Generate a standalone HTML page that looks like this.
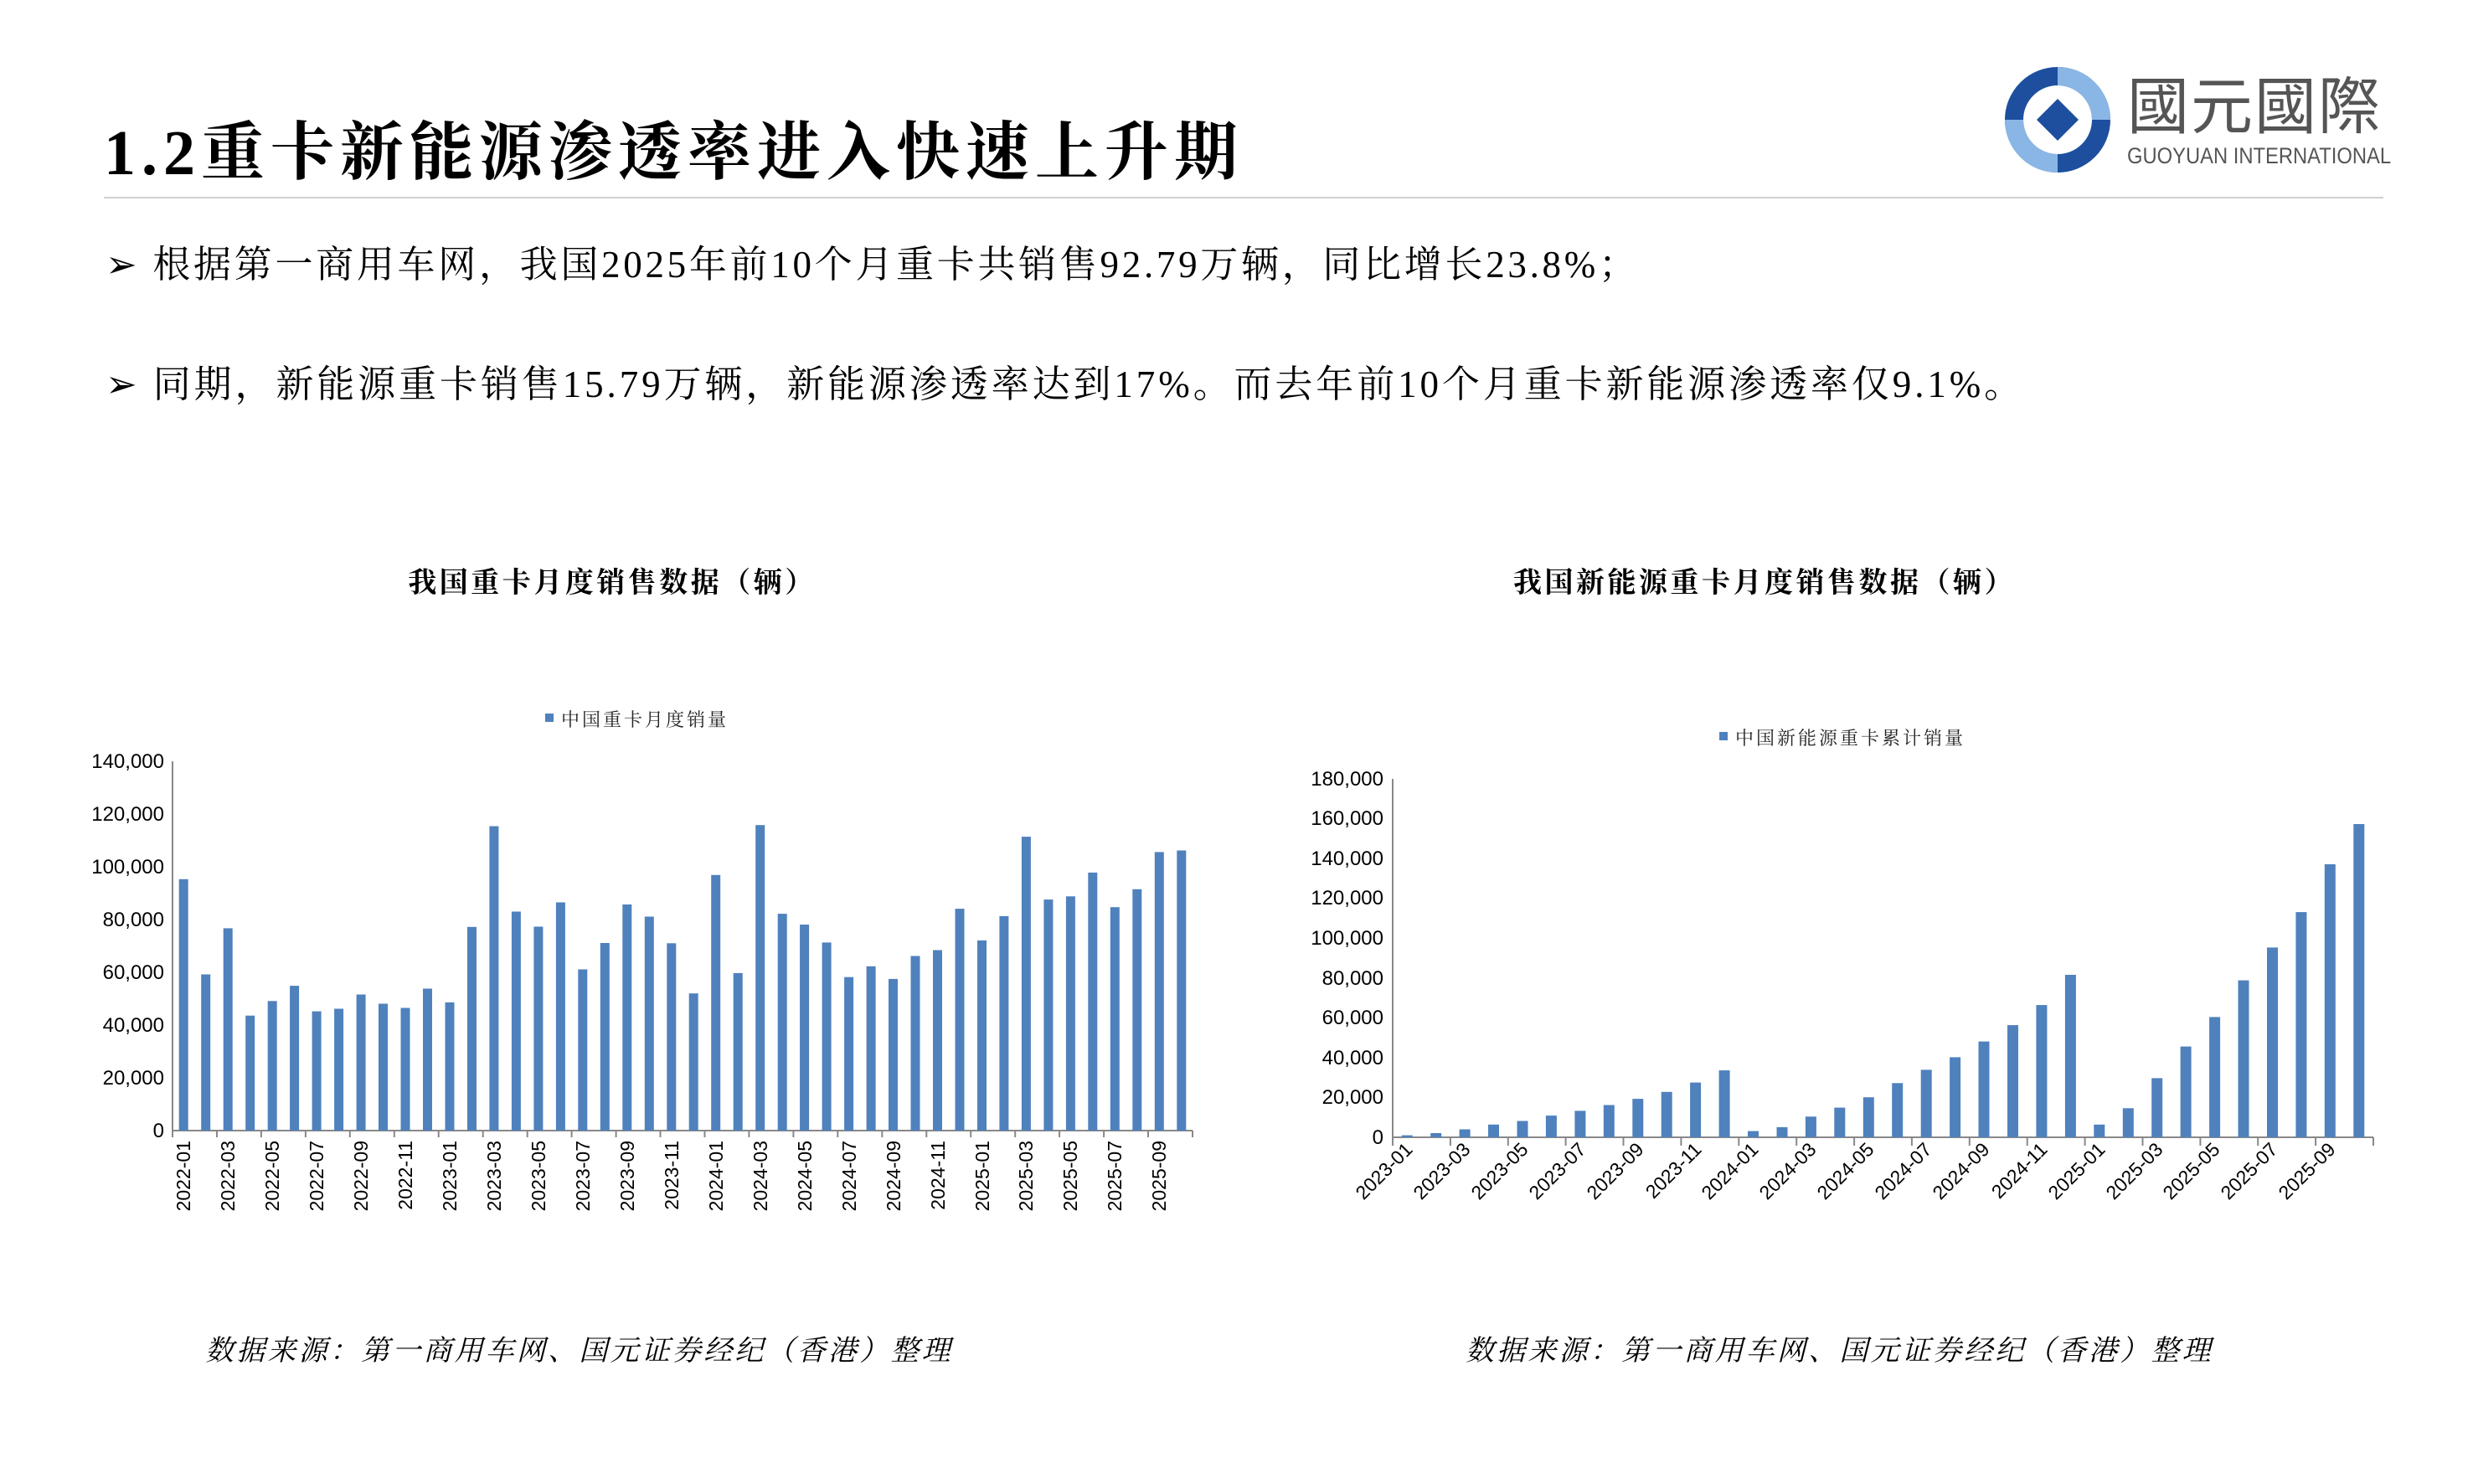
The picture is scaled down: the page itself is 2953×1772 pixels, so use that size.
<!DOCTYPE html>
<html><head><meta charset="utf-8"><style>
html,body{margin:0;padding:0;background:#fff;}
body{width:2953px;height:1772px;position:relative;overflow:hidden;font-family:"Liberation Serif","Noto Serif CJK SC",serif;}
.t{position:absolute;white-space:nowrap;color:#000;}
</style></head><body>
<div class="t" style="left:124px;top:138px;font-size:76px;font-weight:bold;line-height:90px;letter-spacing:7px;">1.2重卡新能源渗透率进入快速上升期</div>
<div style="position:absolute;left:124px;top:235px;width:2722px;height:2px;background:#d0d0d0;"></div>
<div class="t" style="left:126px;top:288px;font-size:45px;line-height:56px;letter-spacing:3.7px;">➢&nbsp;根据第一商用车网，我国2025年前10个月重卡共销售92.79万辆，同比增长23.8%；</div>
<div class="t" style="left:126px;top:431px;font-size:45px;line-height:56px;letter-spacing:3.9px;">➢&nbsp;同期，新能源重卡销售15.79万辆，新能源渗透率达到17%。而去年前10个月重卡新能源渗透率仅9.1%。</div>

<svg style="position:absolute;left:2392px;top:78px" width="130" height="130" viewBox="0 0 130 130">
<circle cx="65" cy="65" r="52" fill="none" stroke="#1d4f9e" stroke-width="22"/>
<path d="M65 13 A52 52 0 0 1 117 65" fill="none" stroke="#8ab6e6" stroke-width="22"/>
<path d="M65 117 A52 52 0 0 1 13 65" fill="none" stroke="#8ab6e6" stroke-width="22"/>
<polygon points="65,40 90,65 65,90 40,65" fill="#1d4f9e"/>
</svg>
<div class="t" style="left:2540px;top:88px;font-size:74px;line-height:80px;color:#555;font-family:'Liberation Sans','Noto Sans CJK TC',sans-serif;letter-spacing:2px;">國元國際</div>
<div class="t" style="left:2540px;top:170px;font-size:27px;line-height:32px;color:#555;font-family:'Liberation Sans',sans-serif;transform:scaleX(0.88);transform-origin:0 0;">GUOYUAN INTERNATIONAL</div>

<div class="t" style="left:0;width:1462px;text-align:center;top:676px;font-size:34px;font-weight:bold;line-height:42px;letter-spacing:3.5px;">我国重卡月度销售数据（辆）</div>
<div class="t" style="left:1462px;width:1290px;text-align:center;top:676px;font-size:34px;font-weight:bold;line-height:42px;letter-spacing:3.5px;">我国新能源重卡月度销售数据（辆）</div>

<svg id="ch" style="position:absolute;left:0;top:0" width="2953" height="1772" font-family="Liberation Sans, sans-serif">
<g font-size="22" fill="#222" font-family="Liberation Serif, Noto Serif CJK SC, serif" letter-spacing="3">
<rect x="651" y="852" width="10" height="10" fill="#4f81bd"/><text x="670" y="867">中国重卡月度销量</text>
<rect x="2053" y="874" width="10" height="10" fill="#4f81bd"/><text x="2072" y="889">中国新能源重卡累计销量</text>
</g>
<g stroke="#888" stroke-width="2">
<line x1="206" y1="909" x2="206" y2="1350"/><line x1="206" y1="1350" x2="1424" y2="1350"/>
<line x1="1663" y1="930" x2="1663" y2="1358"/><line x1="1663" y1="1358" x2="2834" y2="1358"/>
</g>
<g font-size="24" fill="#000" text-anchor="end">
<text x="196" y="1358">0</text><text x="196" y="1295">20,000</text><text x="196" y="1232">40,000</text><text x="196" y="1169">60,000</text><text x="196" y="1106">80,000</text><text x="196" y="1043">100,000</text><text x="196" y="980">120,000</text><text x="196" y="917">140,000</text>
<text x="1652" y="1366">0</text><text x="1652" y="1318">20,000</text><text x="1652" y="1271">40,000</text><text x="1652" y="1223">60,000</text><text x="1652" y="1176">80,000</text><text x="1652" y="1128">100,000</text><text x="1652" y="1080">120,000</text><text x="1652" y="1033">140,000</text><text x="1652" y="985">160,000</text><text x="1652" y="938">180,000</text>
</g>
<g id="bars" fill="#4f81bd"></g>
<g font-size="23" fill="#000" text-anchor="end">
<text transform="translate(227,1362) rotate(-90)">2022-01</text>
<text transform="translate(280,1362) rotate(-90)">2022-03</text>
<text transform="translate(333,1362) rotate(-90)">2022-05</text>
<text transform="translate(386,1362) rotate(-90)">2022-07</text>
<text transform="translate(439,1362) rotate(-90)">2022-09</text>
<text transform="translate(492,1362) rotate(-90)">2022-11</text>
<text transform="translate(545,1362) rotate(-90)">2023-01</text>
<text transform="translate(598,1362) rotate(-90)">2023-03</text>
<text transform="translate(651,1362) rotate(-90)">2023-05</text>
<text transform="translate(704,1362) rotate(-90)">2023-07</text>
<text transform="translate(757,1362) rotate(-90)">2023-09</text>
<text transform="translate(810,1362) rotate(-90)">2023-11</text>
<text transform="translate(863,1362) rotate(-90)">2024-01</text>
<text transform="translate(916,1362) rotate(-90)">2024-03</text>
<text transform="translate(969,1362) rotate(-90)">2024-05</text>
<text transform="translate(1022,1362) rotate(-90)">2024-07</text>
<text transform="translate(1075,1362) rotate(-90)">2024-09</text>
<text transform="translate(1128,1362) rotate(-90)">2024-11</text>
<text transform="translate(1181,1362) rotate(-90)">2025-01</text>
<text transform="translate(1233,1362) rotate(-90)">2025-03</text>
<text transform="translate(1286,1362) rotate(-90)">2025-05</text>
<text transform="translate(1339,1362) rotate(-90)">2025-07</text>
<text transform="translate(1392,1362) rotate(-90)">2025-09</text>
</g>
<g font-size="23" fill="#000" text-anchor="end">
<text transform="translate(1688,1374) rotate(-45)">2023-01</text>
<text transform="translate(1757,1374) rotate(-45)">2023-03</text>
<text transform="translate(1826,1374) rotate(-45)">2023-05</text>
<text transform="translate(1895,1374) rotate(-45)">2023-07</text>
<text transform="translate(1964,1374) rotate(-45)">2023-09</text>
<text transform="translate(2033,1374) rotate(-45)">2023-11</text>
<text transform="translate(2101,1374) rotate(-45)">2024-01</text>
<text transform="translate(2170,1374) rotate(-45)">2024-03</text>
<text transform="translate(2239,1374) rotate(-45)">2024-05</text>
<text transform="translate(2308,1374) rotate(-45)">2024-07</text>
<text transform="translate(2377,1374) rotate(-45)">2024-09</text>
<text transform="translate(2446,1374) rotate(-45)">2024-11</text>
<text transform="translate(2515,1374) rotate(-45)">2025-01</text>
<text transform="translate(2584,1374) rotate(-45)">2025-03</text>
<text transform="translate(2652,1374) rotate(-45)">2025-05</text>
<text transform="translate(2721,1374) rotate(-45)">2025-07</text>
<text transform="translate(2790,1374) rotate(-45)">2025-09</text>
</g>
</svg>

<div class="t" style="left:245px;top:1592px;font-size:34px;font-style:italic;line-height:44px;letter-spacing:3.2px;">数据来源：第一商用车网、国元证券经纪（香港）整理</div>
<div class="t" style="left:1750px;top:1592px;font-size:34px;font-style:italic;line-height:44px;letter-spacing:3.2px;">数据来源：第一商用车网、国元证券经纪（香港）整理</div>

<script>
var L=[95.3,59.2,76.7,43.6,49.1,54.9,45.2,46.2,51.6,48.1,46.5,53.8,48.6,77.2,115.4,83.0,77.3,86.5,61.1,71.1,85.7,81.1,71.0,52.0,96.9,59.7,115.8,82.2,78.1,71.3,58.2,62.3,57.5,66.2,68.4,84.1,72.1,81.3,111.4,87.6,88.8,97.8,84.7,91.5,105.6,106.2];
var R=[1,2.1,4,6.4,8.2,10.9,13.3,16.2,19.3,22.8,27.5,33.6,3.1,5.1,10.4,14.9,20.1,27.2,33.9,40.2,48.1,56.3,66.4,81.6,6.4,14.6,29.7,45.6,60.4,78.8,95.3,113.1,137.1,157.3];
var g=document.getElementById('bars'),s='';
function add(x,y,w,h,f){s+='<rect x="'+x.toFixed(1)+'" y="'+y.toFixed(1)+'" width="'+w+'" height="'+h.toFixed(1)+'"'+(f?' fill="'+f+'"':'')+'/>';}
var w1=(1424-206)/46;
L.forEach(function(v,i){var h=v*441/140;var c=206+(i+0.5)*w1;add(c-5.5,1350-h,11,h);});
for(var i=0;i<=46;i+=2){add(206+i*w1-1,1350,2,8,'#888');}
var w2=(2834-1663)/34;
R.forEach(function(v,i){var h=v*428/180;var c=1663+(i+0.5)*w2;add(c-6.5,1358-h,13,h);});
for(var i=0;i<=34;i+=2){add(1663+i*w2-1,1358,2,10,'#888');}
g.innerHTML=s;
</script>
</body></html>
